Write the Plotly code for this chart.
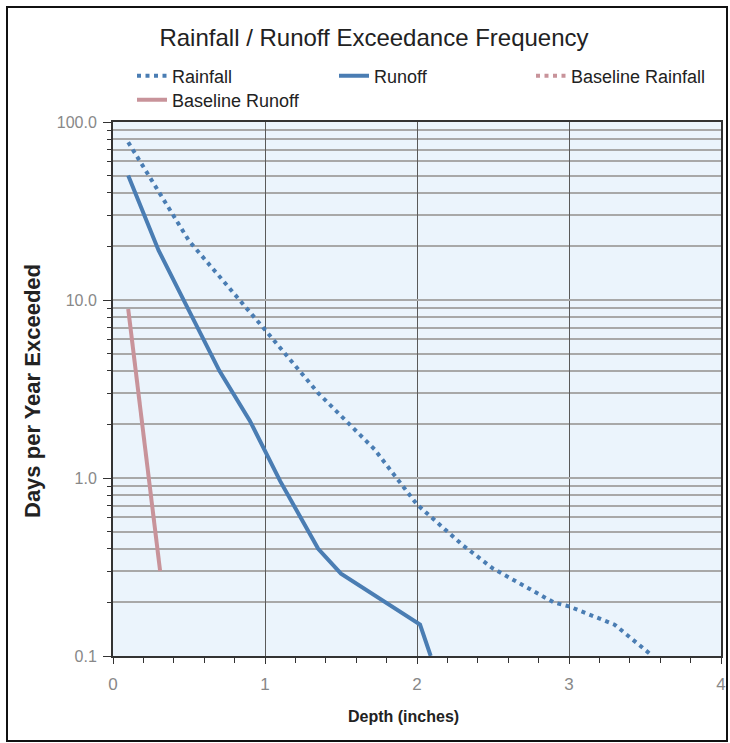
import plotly.graph_objects as go

# ---- data ----
rain_x = [0.1, 0.5, 1.0, 1.35, 1.72, 2.0, 2.3, 2.5, 2.9, 3.0, 3.3, 3.55]
rain_y = [77, 21.5, 6.8, 3.0, 1.45, 0.71, 0.42, 0.31, 0.20, 0.19, 0.15, 0.1]

runoff_x = [0.1, 0.3, 0.44, 0.7, 0.9, 1.1, 1.35, 1.5, 2.02, 2.09]
runoff_y = [50, 19, 11.0, 4.0, 2.1, 0.96, 0.40, 0.29, 0.15, 0.1]

base_rain_x = [None]
base_rain_y = [None]

base_runoff_x = [0.1, 0.31]
base_runoff_y = [8.9, 0.30]

y_major = [0.1, 1, 10, 100]
y_major_text = ["0.1", "1.0", "10.0", "100.0"]
y_minor = [m * d for d in (0.1, 1, 10) for m in range(2, 10)]
x_ticks = [0, 1, 2, 3, 4]

BLUE = "#4a7db3"
PINK = "#c8939a"
FONT = "Liberation Sans, Arial, sans-serif"

L, R, T, B = 113, 9, 122, 87
W, H = 730, 743
pw, ph = W - L - R, H - T - B


def px_x(px):
    return (px - L) / pw


def px_y(py):
    return (H - B - py) / ph


fig = go.Figure()
fig.add_trace(go.Scatter(x=rain_x, y=rain_y, mode="lines", name="Rainfall", legend="legend",
                         line=dict(color=BLUE, width=4, dash="4px,4.5px")))
fig.add_trace(go.Scatter(x=runoff_x, y=runoff_y, mode="lines", name="Runoff", legend="legend2",
                         line=dict(color=BLUE, width=4)))
fig.add_trace(go.Scatter(x=base_rain_x, y=base_rain_y, mode="lines", name="Baseline Rainfall",
                         legend="legend3",
                         line=dict(color=PINK, width=4, dash="4px,4.5px")))
fig.add_trace(go.Scatter(x=base_runoff_x, y=base_runoff_y, mode="lines", name="Baseline Runoff",
                         legend="legend4",
                         line=dict(color=PINK, width=4)))


def leg(xpx, ypx):
    return dict(x=px_x(xpx), xanchor="left", y=px_y(ypx), yanchor="middle",
                font=dict(size=18, color="#222", family=FONT), bgcolor="rgba(0,0,0,0)",
                borderwidth=0)


fig.update_layout(
    width=W, height=H,
    margin=dict(l=L, r=R, t=T, b=B, pad=0, autoexpand=False),
    paper_bgcolor="white",
    plot_bgcolor="#ebf4fc",
    font=dict(family=FONT, color="#222"),
    title=dict(text="Rainfall / Runoff Exceedance Frequency",
               x=374 / W, xanchor="center", y=1 - 38 / H, yanchor="middle",
               font=dict(size=24, color="#222")),
    showlegend=True,
    legend=leg(132, 76),
    legend2=leg(334, 76),
    legend3=leg(531, 76),
    legend4=leg(132, 100),
    xaxis=dict(range=[0, 4], tickmode="array", tickvals=x_ticks,
               showgrid=True, gridcolor="#5a5a5a", gridwidth=1,
               showline=True, linecolor="#333", linewidth=2, mirror=True,
               ticks="outside", ticklen=6, tickcolor="#333", ticklabelstandoff=6,
               tickfont=dict(size=17, color="#888"),
               minor=dict(dtick=0.2, ticks="outside", ticklen=5, tickcolor="#333", showgrid=False),
               zeroline=False),
    yaxis=dict(type="log", range=[-1, 2], tickmode="array", tickvals=y_major, ticktext=y_major_text,
               showgrid=True, gridcolor="#a8a8a8", gridwidth=2,
               showline=True, linecolor="#333", linewidth=2, mirror=True,
               ticks="outside", ticklen=8, tickcolor="#333", ticklabelstandoff=3,
               tickfont=dict(size=16, color="#888"),
               minor=dict(tickvals=y_minor, ticks="outside", ticklen=4, tickcolor="#333",
                          showgrid=True, gridcolor="#a8a8a8", gridwidth=2)),
    annotations=[
        dict(text="<b>Depth (inches)</b>", xref="paper", yref="paper",
             x=px_x(403), y=px_y(716), xanchor="center", yanchor="middle", showarrow=False,
             font=dict(size=16, color="#222", family=FONT)),
        dict(text="<b>Days per Year Exceeded</b>", xref="paper", yref="paper",
             x=px_x(32), y=px_y(391), xanchor="center", yanchor="middle", showarrow=False,
             textangle=-90, font=dict(size=22, color="#222", family=FONT)),
    ],
)

# outer frame
fig.add_shape(type="rect", xref="paper", yref="paper",
              x0=px_x(7), x1=px_x(727), y0=px_y(741), y1=px_y(7),
              line=dict(color="#111", width=2), layer="below")

fig.write_html("out.html", config={"displayModeBar": False},
               post_script="document.body.style.margin='0';document.body.style.overflow='hidden';")
